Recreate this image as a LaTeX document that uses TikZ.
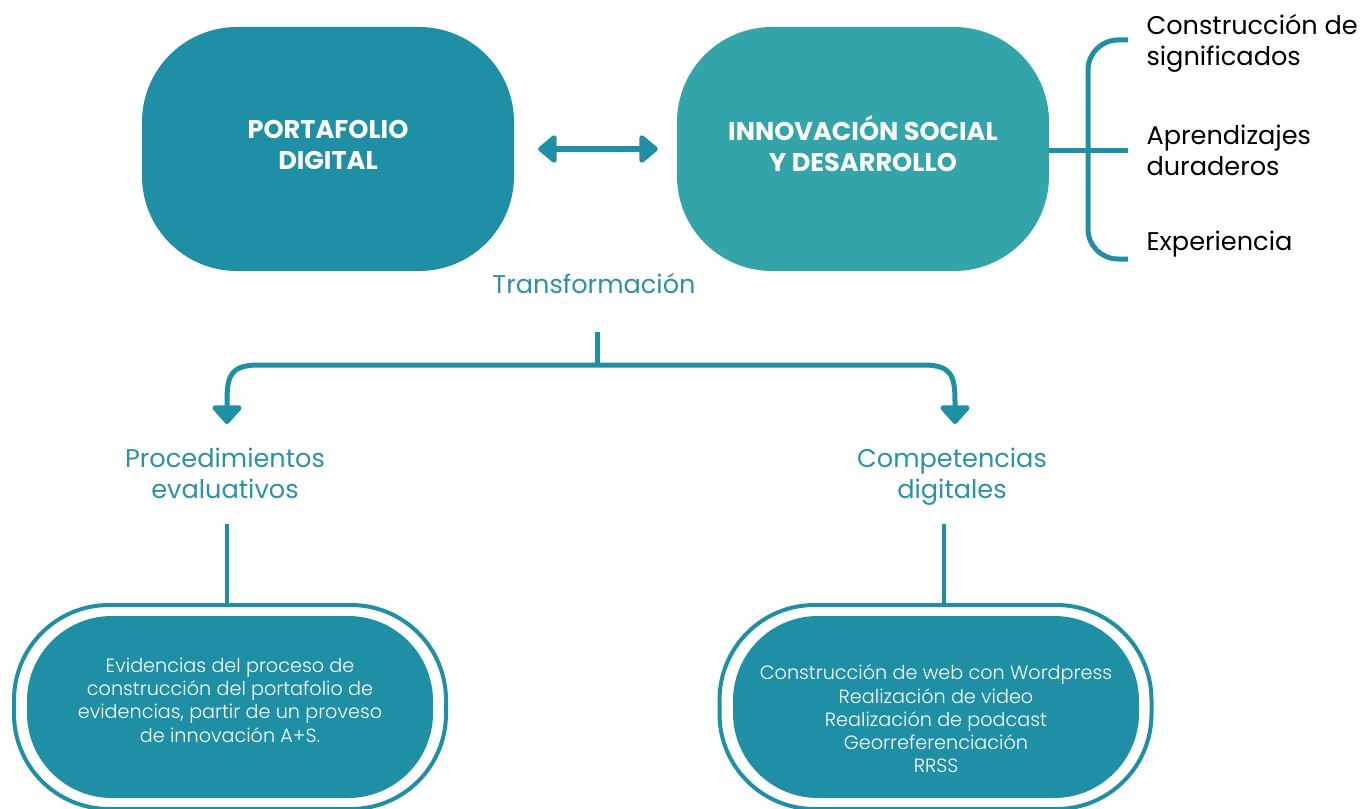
\documentclass[tikz,border=0pt]{standalone}
\usepackage{fontspec}
\setmainfont{Poppins}
\newfontfamily\plight{Poppins Light}
\usetikzlibrary{arrows.meta}
\definecolor{tealA}{HTML}{1F8FA6}
\definecolor{tealB}{HTML}{33A5AA}
\definecolor{tealT}{HTML}{2A91A8}
\begin{document}
\begin{tikzpicture}[x=1pt,y=-1pt,
  bigbox/.style={rectangle, rounded corners=95pt, minimum width=372pt, minimum height=244pt, inner sep=0pt},
  bigtxt/.style={text=white, font=\bfseries\fontsize{25.6}{31}\selectfont, align=center},
  label/.style={text=tealT, font=\fontsize{25.6}{31}\selectfont, align=center},
  side/.style={text=black, font=\fontsize{25.6}{31}\selectfont, align=left, anchor=west},
  outerbox/.style={rectangle, draw=tealA, line width=4pt, fill=white, rounded corners=95pt, minimum width=432pt, minimum height=204pt, inner sep=0pt},
  innerbox/.style={rectangle, fill=tealA, rounded corners=85pt, minimum width=406pt, minimum height=182pt, inner sep=0pt},
  smalltxt/.style={text=white, font=\plight\fontsize{19.2}{23.3}\selectfont, align=center},
  conn/.style={draw=tealA, line width=5pt},
  tip/.style={-{Triangle[width=34pt,length=20pt,round]}}
]
\useasboundingbox (0,0) rectangle (1364,808);

% top boxes
\node[bigbox, fill=tealA] (pd) at (328,149) {};
\node[bigtxt] (pdt) at (328,144.5) {PORTAFOLIO\\DIGITAL};
\node[bigbox, fill=tealB] (isd) at (863,149) {};
\node[bigtxt] (isdt) at (863,143.5) {INNOVACIÓN SOCIAL\\Y DESARROLLO};

% double arrow
\draw[conn, line width=6pt, {Triangle[width=32pt,length=20pt,round]}-{Triangle[width=32pt,length=20pt,round]}, shorten <=24pt, shorten >=19pt] (pd.east) -- (isd.west);

% brace on the right
\coordinate (bm) at (1128,150);
\coordinate (bt) at (1128,40);
\coordinate (bb) at (1128,259);
\draw[conn] (isd.east |- bm) -- (bm);
\draw[conn, rounded corners=30pt] (bt) -- (1088,40) -- (1088,259) -- (bb);

\node[side] (s1) at (1143,43.5) {Construcción de\\significados};
\node[side] (s2) at (1143,150) {Aprendizajes\\duraderos};
\node[side] (s3) at (1143,244.5) {Experiencia};

% transformation
\node[label] (tr) at (594,284) {Transformación};
\coordinate (j0) at (597,332);
\coordinate (j1) at (597,365);
\coordinate (la) at (227,424);
\coordinate (ra) at (955,424);
\draw[conn] (j0) -- (j1);
\draw[conn, tip] (j1) -- (258,365) .. controls (227,365) and (227,380) .. (la);
\draw[conn, tip] (j1) -- (924,365) .. controls (955,365) and (955,380) .. (ra);

% labels
\node[label] (proc) at (225,473) {Procedimientos\\evaluativos};
\node[label] (comp) at (952,477) {Competencias\\digitales};

% bottom boxes
\node[outerbox] (lbo) at (230,707) {};
\node[innerbox] (lbi) at (230,707) {};
\node[smalltxt] (lbt) at (230,700) {Evidencias del proceso de\\construcción del portafolio de\\evidencias, partir de un proveso\\de innovación A+S.};

\node[outerbox] (rbo) at (935.5,707) {};
\node[innerbox] (rbi) at (936,707) {};
\node[smalltxt] (rbt) at (936,719) {Construcción de web con Wordpress\\Realización de video\\Realización de podcast\\Georreferenciación\\RRSS};

% verticals
\coordinate (p1) at (227,524);
\coordinate (c1) at (944,524);
\draw[conn, line width=4pt] (p1) -- (p1 |- lbo.north);
\draw[conn, line width=4pt] (c1) -- (c1 |- rbo.north);
\end{tikzpicture}
\end{document}
